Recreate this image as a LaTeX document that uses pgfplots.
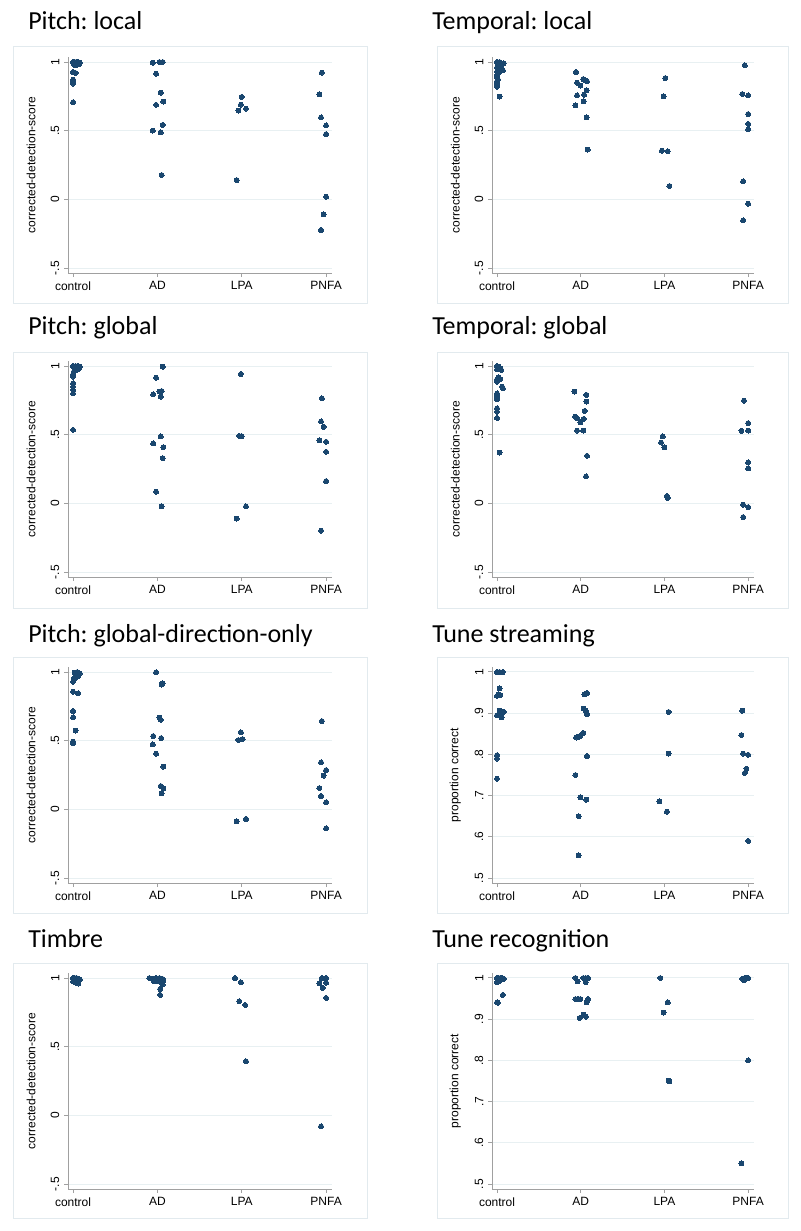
\documentclass[border=0pt]{standalone}
\usepackage{fontspec}
\setmainfont{Liberation Sans}
\newfontfamily\calibri{Carlito}
\usepackage{pgfplots}
\pgfplotsset{compat=1.18}
\frenchspacing
\definecolor{navy}{RGB}{26,71,111}
\definecolor{axgray}{RGB}{160,160,160}
\definecolor{gridc}{RGB}{232,240,242}
\definecolor{framec}{RGB}{226,234,238}
\pgfplotsset{
 stpanel/.style={scale only axis, height=162pt, xmin=-0.06, xmax=3.07,
  axis x line*=bottom, axis y line*=left,
  axis line style={draw=axgray, line width=0.75pt},
  xtick={0,1,2,3}, xticklabels={control,AD,LPA,PNFA},
  tick align=outside, major tick length=3pt,
  tick style={draw=axgray, line width=0.75pt},
  ymajorgrids, grid style={draw=gridc, line width=0.75pt},
  /pgf/number format/assume math mode=true,
  tick label style={font=\fontsize{9}{10}\selectfont, text=black},
  yticklabel style={rotate=90, anchor=south},
  ylabel style={font=\fontsize{9}{10}\selectfont, at={(axis description cs:-0.14,0.5)}, anchor=center, rotate=0},
  clip=false, anchor=south west},
 cds/.style={ymin=-0.5364, ymax=1.0364, ytick={-0.5,0,0.5,1}, yticklabels={-.5,0,.5,1}, ylabel={corrected-detection-score}},
 prop/.style={ymin=0.4879, ymax=1.0121, ytick={0.5,0.6,0.7,0.8,0.9,1}, yticklabels={.5,.6,.7,.8,.9,1}, ylabel={proportion correct}},
 colA/.style={width=198pt},
 colB/.style={width=196.5pt},
 pts/.style={only marks, mark=*, mark size=1.875pt, mark options={fill=navy, draw=navy, line width=0pt}},
}
\newcommand\ttl[3]{\node[anchor=base west, inner sep=0pt] at (#1,#2) {\calibri\fontsize{19.5}{22}\selectfont #3};}
\begin{document}
\begin{tikzpicture}
\useasboundingbox (0,0) rectangle (600pt,-923.25pt);
% frames
\draw[framec, line width=0.75pt] (9.75pt,-35.25pt) rectangle (275.25pt,-227.25pt);
\draw[framec, line width=0.75pt] (327.75pt,-35.25pt) rectangle (591pt,-227.25pt);
\draw[framec, line width=0.75pt] (9.75pt,-264pt) rectangle (275.25pt,-456pt);
\draw[framec, line width=0.75pt] (327.75pt,-264pt) rectangle (591pt,-456pt);
\draw[framec, line width=0.75pt] (9.75pt,-492.75pt) rectangle (275.25pt,-684.75pt);
\draw[framec, line width=0.75pt] (327.75pt,-492.75pt) rectangle (591pt,-684.75pt);
\draw[framec, line width=0.75pt] (9.75pt,-722.25pt) rectangle (275.25pt,-913.5pt);
\draw[framec, line width=0.75pt] (327.75pt,-722.25pt) rectangle (591pt,-913.5pt);
% titles
\ttl{21pt}{-22.5pt}{Pitch: local}
\ttl{324pt}{-22.5pt}{Temporal: local}
\ttl{21pt}{-250.5pt}{Pitch: global}
\ttl{324pt}{-250.5pt}{Temporal: global}
\ttl{21pt}{-481.5pt}{Pitch: global-direction-only}
\ttl{324pt}{-481.5pt}{Tune streaming}
\ttl{21pt}{-710.25pt}{Timbre}
\ttl{324pt}{-710.25pt}{Tune recognition}

% Pitch: local
\begin{axis}[stpanel, colA, cds, at={(51pt,-204.75pt)}]
\addplot[pts] coordinates {
(0.00,1.000)(0.02,1.000)(0.04,1.000)(0.06,1.000)(0.08,0.995)(0.03,0.988)(0.05,0.990)(0.07,0.985)(0.01,0.982)(0.03,0.975)(0.00,0.927)(0.03,0.920)(0.00,0.872)(0.00,0.860)(0.00,0.843)(0.00,0.707)
(0.945,0.995)(1.024,1.0)(1.063,1.0)(0.984,0.915)(1.04,0.777)(1.07,0.712)(0.984,0.688)(1.063,0.542)(0.945,0.501)(1.04,0.487)(1.05,0.177)
(2.0,0.746)(1.99,0.69)(1.96,0.646)(2.05,0.661)(1.94,0.14)
(2.95,0.923)(2.92,0.765)(2.94,0.596)(3.0,0.538)(3.0,0.475)(3.0,0.019)(2.97,-0.109)(2.94,-0.223)};
\end{axis}

% Temporal: local
\begin{axis}[stpanel, colB, cds, at={(369pt,-204.75pt)}]
\addplot[pts] coordinates {
(0.00,1.0)(0.03,1.0)(0.08,0.99)(0.05,0.975)(0.02,0.97)(0.00,0.96)(0.04,0.95)(0.07,0.94)(0.00,0.93)(0.02,0.92)(0.00,0.905)(0.00,0.89)(0.01,0.875)(0.00,0.86)(0.00,0.84)(0.00,0.82)(0.03,0.748)
(0.944,0.927)(0.956,0.85)(0.996,0.828)(1.03,0.876)(1.06,0.864)(1.075,0.859)(0.956,0.757)(1.07,0.794)(1.04,0.762)(1.036,0.714)(0.937,0.684)(1.07,0.597)(1.083,0.362)
(2.01,0.883)(1.99,0.75)(1.97,0.354)(2.04,0.35)(2.06,0.097)
(2.96,0.976)(2.93,0.767)(3.0,0.757)(3.0,0.621)(3.0,0.549)(3.0,0.51)(2.94,0.131)(3.0,-0.032)(2.94,-0.153)};
\end{axis}

% Pitch: global
\begin{axis}[stpanel, colA, cds, at={(51pt,-432.75pt)}]
\addplot[pts] coordinates {
(0.00,1.0)(0.03,1.0)(0.06,1.0)(0.08,0.995)(0.05,0.99)(0.02,0.985)(0.07,0.98)(0.04,0.97)(0.01,0.96)(0.00,0.94)(0.00,0.923)(0.00,0.874)(0.00,0.85)(0.00,0.826)(0.00,0.80)(0.00,0.535)
(1.063,0.995)(0.984,0.915)(0.95,0.794)(1.024,0.814)(1.05,0.818)(1.04,0.777)(1.04,0.487)(0.95,0.436)(1.07,0.409)(1.063,0.329)(0.984,0.085)(1.05,-0.022)
(1.99,0.942)(1.97,0.491)(2.0,0.489)(2.05,-0.022)(1.94,-0.111)
(2.95,0.765)(2.94,0.596)(2.97,0.557)(2.92,0.458)(3.0,0.448)(3.0,0.375)(3.0,0.162)(2.94,-0.199)};
\end{axis}

% Temporal: global
\begin{axis}[stpanel, colB, cds, at={(369pt,-432.75pt)}]
\addplot[pts] coordinates {
(0.00,1.0)(0.02,0.995)(0.00,0.976)(0.05,0.971)(0.04,0.983)(0.00,0.903)(0.02,0.918)(0.04,0.905)(0.00,0.886)(0.07,0.838)(0.06,0.85)(0.00,0.80)(0.00,0.782)(0.00,0.765)(0.00,0.758)(0.00,0.692)(0.00,0.668)(0.00,0.622)(0.03,0.37)
(0.925,0.814)(0.933,0.632)(0.956,0.62)(0.996,0.591)(0.956,0.53)(1.03,0.53)(1.036,0.615)(1.048,0.673)(1.067,0.741)(1.067,0.79)(1.075,0.346)(1.063,0.196)
(1.96,0.443)(1.98,0.487)(2.0,0.409)(2.03,0.053)(2.04,0.039)
(2.95,0.748)(2.92,0.528)(3.0,0.53)(3.0,0.584)(3.0,0.298)(3.0,0.254)(2.94,-0.01)(3.0,-0.027)(2.94,-0.1)};
\end{axis}

% Pitch: global-direction-only
\begin{axis}[stpanel, colA, cds, at={(51pt,-662.25pt)}]
\addplot[pts] coordinates {
(0.02,0.995)(0.05,1.0)(0.08,0.99)(0.03,0.978)(0.06,0.97)(0.01,0.954)(0.03,0.961)(0.00,0.93)(0.01,0.942)(0.00,0.857)(0.06,0.845)(0.00,0.716)(0.00,0.67)(0.03,0.573)(0.00,0.493)(0.00,0.481)
(0.984,0.998)(1.063,0.917)(1.05,0.908)(1.024,0.667)(1.04,0.652)(0.95,0.534)(1.044,0.519)(0.945,0.473)(0.984,0.405)(1.07,0.311)(1.04,0.17)(1.07,0.153)(1.05,0.117)
(1.99,0.561)(1.96,0.505)(2.01,0.512)(2.05,-0.07)(1.94,-0.087)
(2.95,0.643)(2.94,0.342)(3.0,0.286)(2.97,0.245)(2.92,0.155)(2.94,0.097)(3.0,0.051)(3.0,-0.138)};
\end{axis}

% Tune streaming
\begin{axis}[stpanel, colB, prop, at={(369pt,-662.25pt)}]
\addplot[pts] coordinates {
(0.00,1.0)(0.03,1.0)(0.07,1.0)(0.03,0.96)(0.02,0.946)(0.00,0.942)(0.04,0.944)(0.00,0.895)(0.03,0.906)(0.06,0.903)(0.08,0.903)(0.055,0.89)(0.00,0.798)(0.00,0.79)(0.00,0.741)
(1.044,0.946)(1.075,0.949)(1.036,0.911)(1.06,0.906)(1.075,0.898)(0.944,0.841)(0.976,0.843)(1.03,0.852)(0.996,0.845)(1.075,0.796)(0.937,0.75)(0.996,0.696)(1.067,0.69)(0.976,0.65)(0.976,0.555)
(2.05,0.903)(2.05,0.802)(1.94,0.686)(2.03,0.661)
(2.93,0.906)(2.92,0.847)(2.94,0.802)(3.0,0.799)(2.98,0.765)(2.96,0.755)(3.0,0.59)};
\end{axis}

% Timbre
\begin{axis}[stpanel, colA, cds, at={(51pt,-891.75pt)}]
\addplot[pts] coordinates {
(0.00,1.0)(0.02,1.0)(0.04,1.0)(0.06,0.995)(0.08,0.99)(0.01,0.985)(0.03,0.98)(0.05,0.975)(0.07,0.98)(0.02,0.97)(0.04,0.965)(0.06,0.96)(0.00,0.975)
(0.905,1.0)(0.945,0.993)(0.984,1.0)(1.024,1.0)(1.063,0.993)(0.96,0.976)(1.01,0.976)(1.05,0.969)(1.07,0.98)(1.063,0.952)(1.032,0.92)(1.032,0.877)
(1.92,1.0)(1.99,0.969)(1.97,0.831)(2.04,0.804)(2.05,0.394)
(2.95,1.0)(3.0,1.0)(2.92,0.961)(3.0,0.966)(2.96,0.928)(3.0,0.855)(2.94,-0.08)};
\end{axis}

% Tune recognition
\begin{axis}[stpanel, colB, prop, at={(369pt,-891.75pt)}]
\addplot[pts] coordinates {
(0.00,1.0)(0.02,1.0)(0.04,1.0)(0.06,1.0)(0.08,0.998)(0.01,0.995)(0.03,0.993)(0.00,0.99)(0.05,0.996)(0.00,0.941)(0.01,0.94)(0.07,0.959)
(0.937,1.0)(0.964,0.992)(1.03,1.0)(1.06,1.0)(1.087,1.0)(1.06,0.99)(0.937,0.949)(0.968,0.949)(0.996,0.949)(1.087,0.949)(1.07,0.941)(1.036,0.911)(1.063,0.906)(0.988,0.903)
(1.95,1.0)(2.04,0.941)(1.99,0.916)(2.05,0.751)(2.06,0.749)
(2.93,0.998)(2.96,1.0)(2.98,1.0)(3.0,1.0)(2.95,0.994)(3.0,0.8)(2.92,0.55)};
\end{axis}
\end{tikzpicture}
\end{document}
